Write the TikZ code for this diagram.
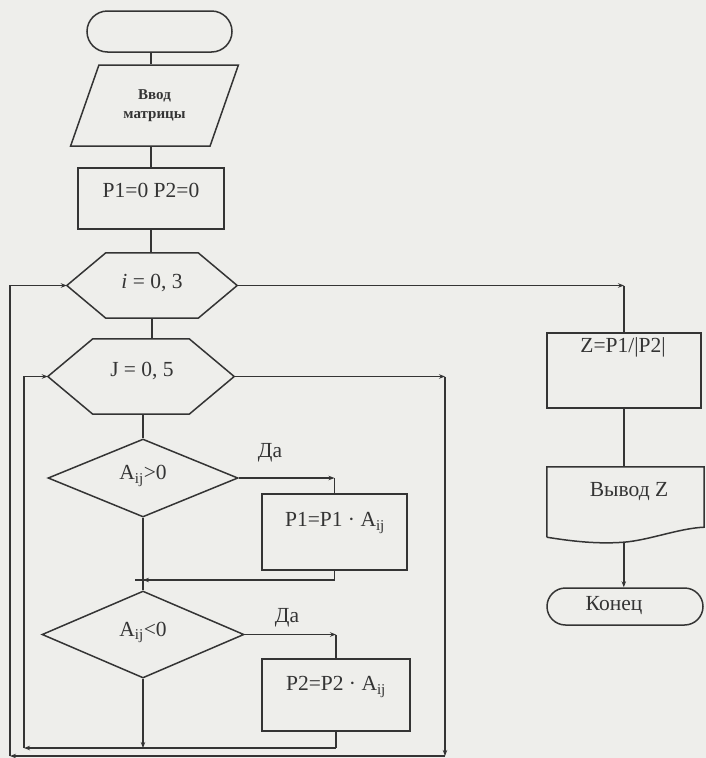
\documentclass[tikz,border=0pt]{standalone}
\usepackage{fontspec}
\setmainfont{Liberation Serif}
\usetikzlibrary{shapes.geometric,shapes.misc,arrows.meta,calc}
\definecolor{ink}{RGB}{52,52,52}
\definecolor{paper}{RGB}{238,238,235}

% hexagonal loop header drawn around a plain rectangular node
\newcommand\hexoutline[2]{%
  \draw[line] ($(#1.north west)+(#2,0)$) -- ($(#1.north east)+(-#2,0)$) -- (#1.east)
    -- ($(#1.south east)+(-#2,0)$) -- ($(#1.south west)+(#2,0)$) -- (#1.west) -- cycle;}

\begin{document}
\begin{tikzpicture}[x=1pt,y=-1pt,
  line/.style={draw=ink,line width=1.5pt},
  thick line/.style={draw=ink,line width=2.6pt},
  arr/.style={line,-{Stealth[length=6pt,width=4.5pt]}},
  txt/.style={text=ink,font=\fontsize{21.5}{24}\selectfont,inner sep=0pt},
  termbox/.style={rounded rectangle,line,inner sep=0pt},
  procbox/.style={rectangle,line,inner sep=0pt},
  decbox/.style={diamond,line,inner sep=0pt},
  shell/.style={rectangle,inner sep=0pt},
]
\fill[paper] (0,0) rectangle (706,758);
\useasboundingbox (0,0) rectangle (706,758);

% ---- main column
\node[termbox,minimum width=145pt,minimum height=41pt] (start) at (159.5,31.5) {};
\node[trapezium,trapezium left angle=63.7,trapezium right angle=116.3,
      trapezium stretches=true,line,minimum width=169pt,minimum height=81pt,
      inner sep=0pt,align=center,text=ink,
      font=\bfseries\fontsize{15}{19}\selectfont] (in) at (154.5,105.5) {Ввод\\матрицы};
\node[procbox,minimum width=146pt,minimum height=61pt] (init) at (151,198.5) {};
\node[txt] (initT) at ($(init)+(0,-8)$) {P1=0 P2=0};

\node[shell,minimum width=170pt,minimum height=65pt] (i) at (152,285.5) {};
\hexoutline{i}{39}
\node[txt] (iT) at (152,283) {\textit{i} = 0, 3};

\node[shell,minimum width=186pt,minimum height=75pt] (J) at (141,376.5) {};
\hexoutline{J}{45}
\node[txt] (JT) at (142,371) {J = 0, 5};

\node[decbox,minimum width=190pt,minimum height=78pt] (A1) at (143,478) {};
\node[txt] (A1T) at (143,476) {A\textsubscript{ij}>0};
\node[decbox,minimum width=202pt,minimum height=87pt] (A2) at (143,634.5) {};
\node[txt] (A2T) at (143,632) {A\textsubscript{ij}<0};

\node[procbox,minimum width=145pt,minimum height=76pt] (P1) at (334.5,532) {};
\node[txt] (P1T) at (335,523) {P1=P1 · A\textsubscript{ij}};
\node[procbox,minimum width=148pt,minimum height=72pt] (P2) at (336,695) {};
\node[txt] (P2T) at (336,687) {P2=P2 · A\textsubscript{ij}};

\node[txt] (da1) at (270,453) {Да};
\node[txt] (da2) at (287,618) {Да};

% ---- right column
\node[procbox,minimum width=154pt,minimum height=75pt] (Z) at (624,370.5) {};
\node[txt] (ZT) at (623,347) {Z=P1/|P2|};

\node[shell,minimum width=157pt,minimum height=70pt] (out) at (625.5,502) {};
\draw[line] (out.south west) -- (out.north west) -- (out.north east)
  -- ($(out.south east)+(0,-10)$)
  .. controls ($(out.south east)+(-25,-9)$) and ($(out.south east)+(-55,3)$) .. ($(out.south west)+(77,5)$) coordinate (wv)
  .. controls ($(out.south west)+(50,7)$) and ($(out.south west)+(25,4)$) .. (out.south west);
\node[txt] (outT) at (629,492) {Вывод Z};

\node[termbox,minimum width=156pt,minimum height=37pt] (end) at (625,606.5) {};
\node[txt] (endT) at (614,606) {Конец};

% ---- loop frame guides
\coordinate (oX) at (445,0);
\coordinate (oL) at (10,0);
\coordinate (oB) at (0,756);
\coordinate (iX) at (24,0);
\coordinate (iB) at (0,748);
\coordinate (jn) at (143,580);

% ---- connectors of the main column
\draw[line] (init.north |- start.south) -- (init.north |- in.north);
\draw[line] (init.north |- in.south) -- (init.north);
\draw[thick line] (init.south) -- (init.south |- i.north);
\draw[line] (i.south) -- (i.south |- J.north);
\draw[thick line] (A1.north |- J.south) -- (A1.north);
\draw[line] (A1.south) -- (A2.north);

% branch A>0
\draw[arr] (A1.east) -- (A1.east -| P1.north);
\draw[line] (A1.east -| P1.north) -- (P1.north);
\draw[line] (P1.south) -- (P1.south |- jn);
\draw[arr] (P1.south |- jn) -- (jn);
\draw[thick line] ($(jn)+(-8,0)$) -- ($(jn)+(4,0)$);

% branch A<0
\draw[arr] (A2.east) -- (A2.east -| P2.north);
\draw[line] (A2.east -| P2.north) -- (P2.north);
\draw[line] (P2.south) -- (P2.south |- iB);
\draw[arr] (A2.south) -- (A2.south |- iB);

% inner loop back to J
\draw[arr] (P2.south |- iB) -- (iX |- iB);
\draw[arr] (iX |- iB) -- (iX |- J.west) -- (J.west);

% outer loop back to i
\draw[arr] (J.east) -- (J.east -| oX);
\draw[arr] (J.east -| oX) -- (oX |- oB);
\draw[arr] (oX |- oB) -- (oL |- oB);
\draw[arr] (oL |- oB) -- (oL |- i.west) -- (i.west);

% exit to the result
\draw[arr] (i.east) -- (i.east -| Z.north);
\draw[line] (i.east -| Z.north) -- (Z.north);
\draw[line] (Z.south) -- (Z.south |- out.north);
\draw[arr] (wv) -- (wv |- end.north);
\end{tikzpicture}
\end{document}
